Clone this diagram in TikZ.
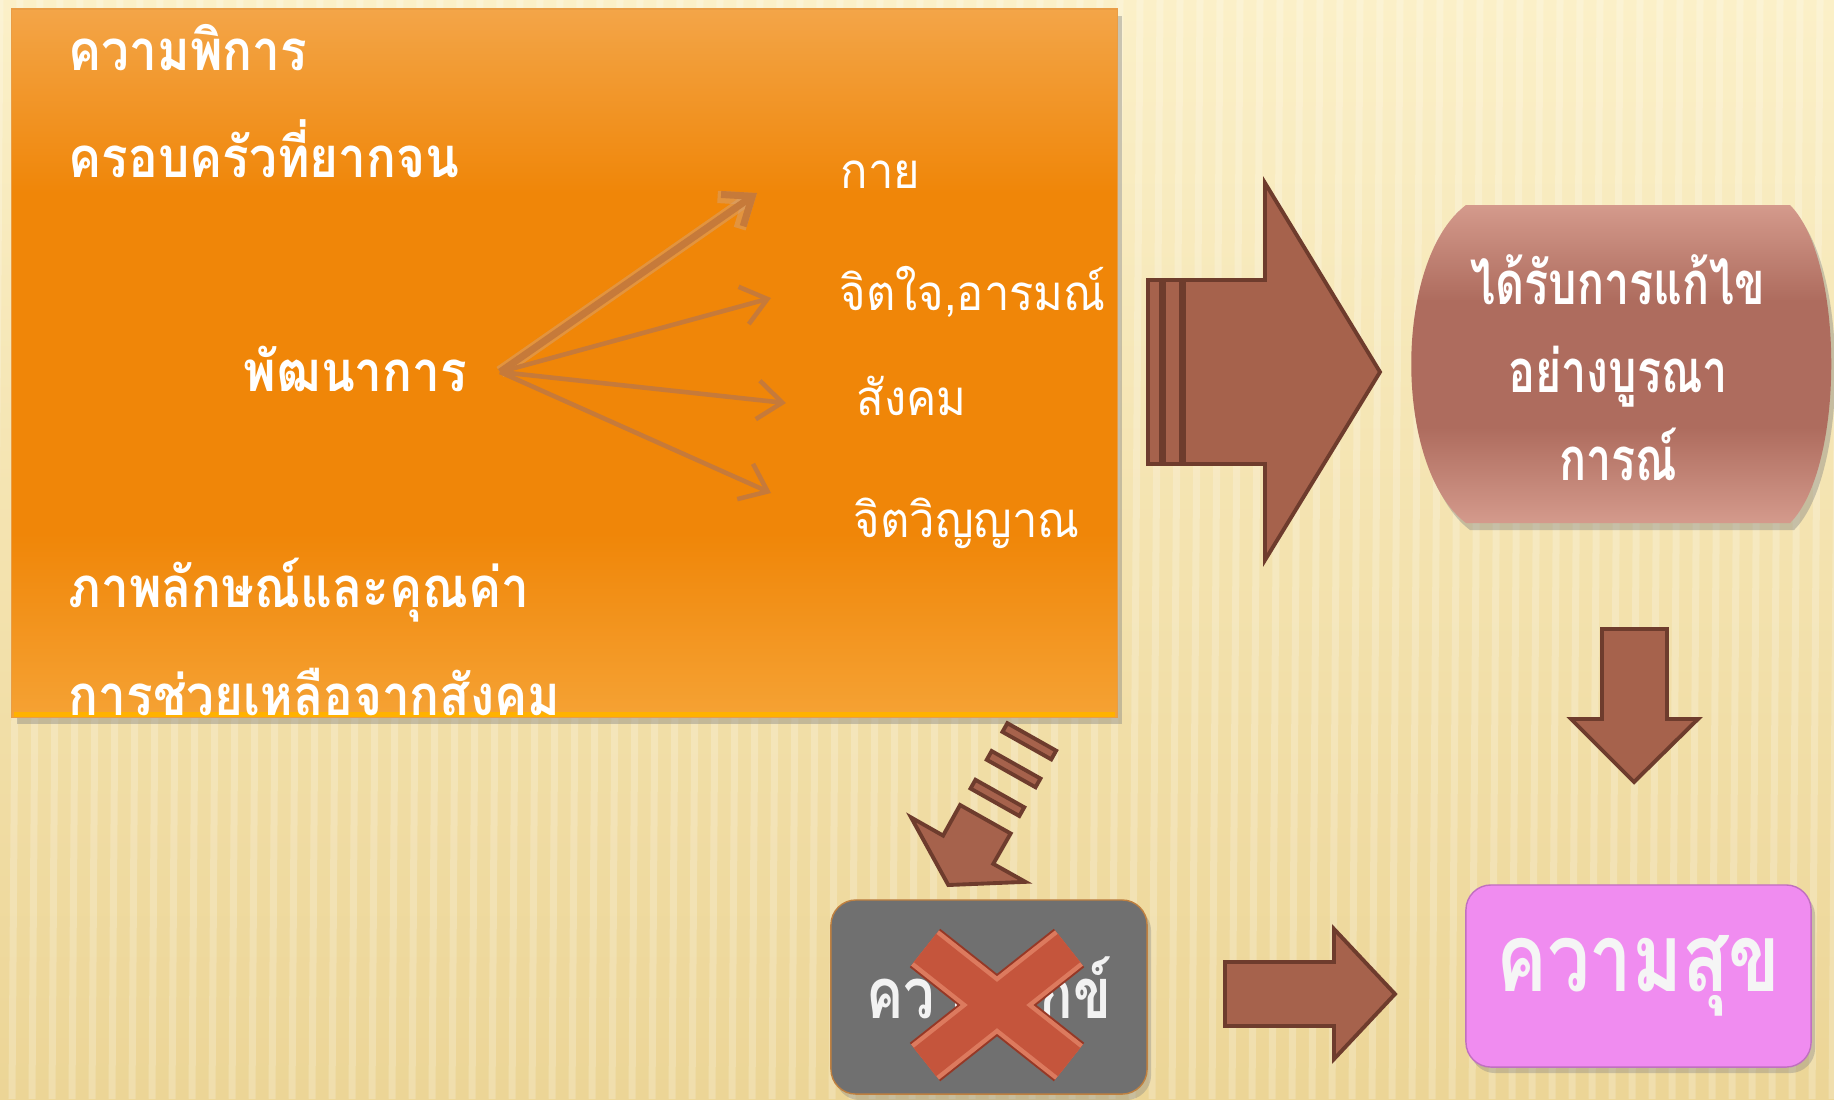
\documentclass[tikz,border=0pt]{standalone}
\usepackage{fontspec}
\newfontfamily\thaifont[Script=Thai]{Loma}
\usetikzlibrary{arrows.meta,shadows}
\newcommand\squeeze[2]{\scalebox{#1}[1]{#2}}

\definecolor{bgtop}{RGB}{251,240,200}
\definecolor{bgbottom}{RGB}{236,213,150}
\definecolor{orangetop}{RGB}{243,165,72}
\definecolor{orangemid}{RGB}{240,134,8}
\definecolor{orangebot}{RGB}{245,162,52}
\definecolor{arrowtan}{RGB}{198,122,58}
\definecolor{blockbrown}{RGB}{166,98,76}
\definecolor{blockedge}{RGB}{110,60,45}
\definecolor{rosetop}{RGB}{212,154,140}
\definecolor{rosemid}{RGB}{174,108,94}
\definecolor{happypink}{RGB}{240,140,240}
\definecolor{sadgray}{RGB}{112,112,112}
\definecolor{crossdark}{RGB}{150,56,38}
\definecolor{crosslight}{RGB}{220,122,94}
\definecolor{crosscore}{RGB}{197,85,60}

\pgfdeclareverticalshading{panelshade}{100bp}{color(0bp)=(orangebot); color(25bp)=(orangebot);
  color(38bp)=(orangemid); color(62bp)=(orangemid); color(75bp)=(orangetop); color(100bp)=(orangetop)}
\pgfdeclareverticalshading{roseshade}{100bp}{color(0bp)=(rosetop); color(25bp)=(rosetop);
  color(40bp)=(rosemid); color(60bp)=(rosemid); color(75bp)=(rosetop); color(100bp)=(rosetop)}

\tikzset{
  listtext/.style={text=white, anchor=base west, inner sep=0pt,
    font=\thaifont\bfseries\fontsize{16}{18}\selectfont},
  parttext/.style={text=white, anchor=base west, inner sep=0pt,
    font=\thaifont\fontsize{14}{16}\selectfont},
  growarrow/.style={draw=arrowtan, line width=1.3pt,
    -{Straight Barb[length=7pt,width=11pt]}},
  blockarrow/.style={fill=blockbrown, draw=blockedge, line width=1.1pt},
  resultbox/.style={rounded corners=0.25cm, inner sep=0pt,
    drop shadow={shadow xshift=0.04cm, shadow yshift=-0.06cm, opacity=0.35}},
}

\begin{document}
\begin{tikzpicture}[x=0.01cm, y=-0.01cm]
  \useasboundingbox (0,0) rectangle (1834,1099);
  % background with ribs
  \shade[top color=bgtop, bottom color=bgbottom] (0,0) rectangle (1834,1099);
  \foreach \i in {0,20,...,1840}
    \draw[white, opacity=0.22, line width=0.07cm] (\i,0) -- (\i-8,1099);

  % orange panel
  \node[draw=orangetop!80!brown, shading=panelshade, minimum width=11.05cm,
    minimum height=7.08cm, inner sep=0pt,
    drop shadow={shadow xshift=0.05cm, shadow yshift=-0.07cm, opacity=0.4}]
    (causes) at (564.5,363) {};
  \draw[orange!60!yellow, line width=0.05cm] (14,714) -- (1115,714);

  \node[listtext] (disabled) at (68,70) {\squeeze{0.88}{ความพิการ}};
  \node[listtext] (poor) at (68,177) {\squeeze{0.88}{ครอบครัวที่ยากจน}};
  \node[listtext] (dev) at (243,391) {\squeeze{0.88}{พัฒนาการ}};
  \node[listtext] (image) at (68,607) {\squeeze{0.88}{ภาพลักษณ์และคุณค่า}};
  \node[listtext] (help) at (68,715) {\squeeze{0.88}{การช่วยเหลือจากสังคม}};

  \node[parttext] (body) at (840,188) {\squeeze{0.92}{กาย}};
  \node[parttext] (mind) at (839,310) {\squeeze{0.92}{จิตใจ,อารมณ์}};
  \node[parttext] (social) at (856,415) {\squeeze{0.92}{สังคม}};
  \node[parttext] (spirit) at (853,537) {\squeeze{0.92}{จิตวิญญาณ}};

  \coordinate (hub) at (500,372);
  \coordinate (toBody) at (757,193);
  \coordinate (toMind) at (771,298);
  \coordinate (toSocial) at (786,403);
  \coordinate (toSpirit) at (771,493);
  \draw[growarrow, draw=arrowtan!70!white, opacity=0.5, line width=3.5pt] (hub) -- (toBody);
  \draw[growarrow, line width=2pt] (hub) -- (toBody);
  \draw[growarrow] (hub) -- (toMind);
  \draw[growarrow] (hub) -- (toSocial);
  \draw[growarrow] (hub) -- (toSpirit);

  % striped arrow to the right
  \draw[blockarrow] (1148,280) rectangle (1161,464);
  \draw[blockarrow] (1164,280) rectangle (1181,464);
  \draw[blockarrow] (1184,280) -- (1265,280) -- (1265,183) -- (1380,372)
    -- (1265,560) -- (1265,464) -- (1184,464) -- cycle;

  % solved box
  \shade[shading=roseshade,
    drop shadow={shadow xshift=0.04cm, shadow yshift=-0.07cm, opacity=0.4}]
    (1466,205) -- (1790,205) .. controls (1845,260) and (1845,468) .. (1790,523)
    -- (1466,523) .. controls (1393,468) and (1393,260) .. (1466,205) -- cycle;
  \node[text=white, align=center, inner sep=0pt,
    font=\thaifont\bfseries\fontsize{17}{25}\selectfont] (solved) at (1618,368)
    {\squeeze{0.75}{ได้รับการแก้ไข}\\\squeeze{0.75}{อย่างบูรณา}\\\squeeze{0.75}{การณ์}};

  % down arrow
  \draw[blockarrow] (1602,629) -- (1667,629) -- (1667,719) -- (1698,719)
    -- (1634,782) -- (1571,719) -- (1602,719) -- cycle;

  % happiness box
  \node[resultbox, fill=happypink, draw=happypink!80!black,
    minimum width=3.45cm, minimum height=1.82cm, text=white!92!gray,
    font=\thaifont\bfseries\fontsize{27}{29}\selectfont] (happy) at (1638.5,976)
    {\squeeze{0.8}{ความสุข}};

  % arrow from suffering to happiness
  \draw[blockarrow] (1225,962) -- (1334,962) -- (1334,929) -- (1395,994)
    -- (1334,1059) -- (1334,1026) -- (1225,1026) -- cycle;

  % suffering box
  \node[resultbox, fill=sadgray, draw=orange!50!gray,
    minimum width=3.16cm, minimum height=1.94cm, text=white!90!gray,
    font=\thaifont\bfseries\fontsize{20}{22}\selectfont] (suffer) at (989,997)
    {\squeeze{0.79}{ความทุกข์}};

  % cross over it
  \draw[crossdark, line width=0.49cm] (925,948) -- (1069,1062) (1069,948) -- (925,1062);
  \draw[crosslight, line width=0.45cm] (925,948) -- (1069,1062) (1069,948) -- (925,1062);
  \draw[crosscore, line width=0.36cm] (925,948) -- (1069,1062) (1069,948) -- (925,1062);

  % striped arrow down to suffering
  \begin{scope}[shift={(948.3,885)}, rotate=-29.4]
    \draw[blockarrow] (0,0) -- (-65.6,-40.6) -- (-28.8,-40.5) -- (-29,-75.5)
      -- (29,-75.5) -- (28.8,-40.5) -- (65.6,-40.6) -- cycle;
    \foreach \v in {-100,-133,-165}
      \draw[blockarrow] (-28,\v-5) rectangle (28,\v+5);
  \end{scope}
\end{tikzpicture}
\end{document}
